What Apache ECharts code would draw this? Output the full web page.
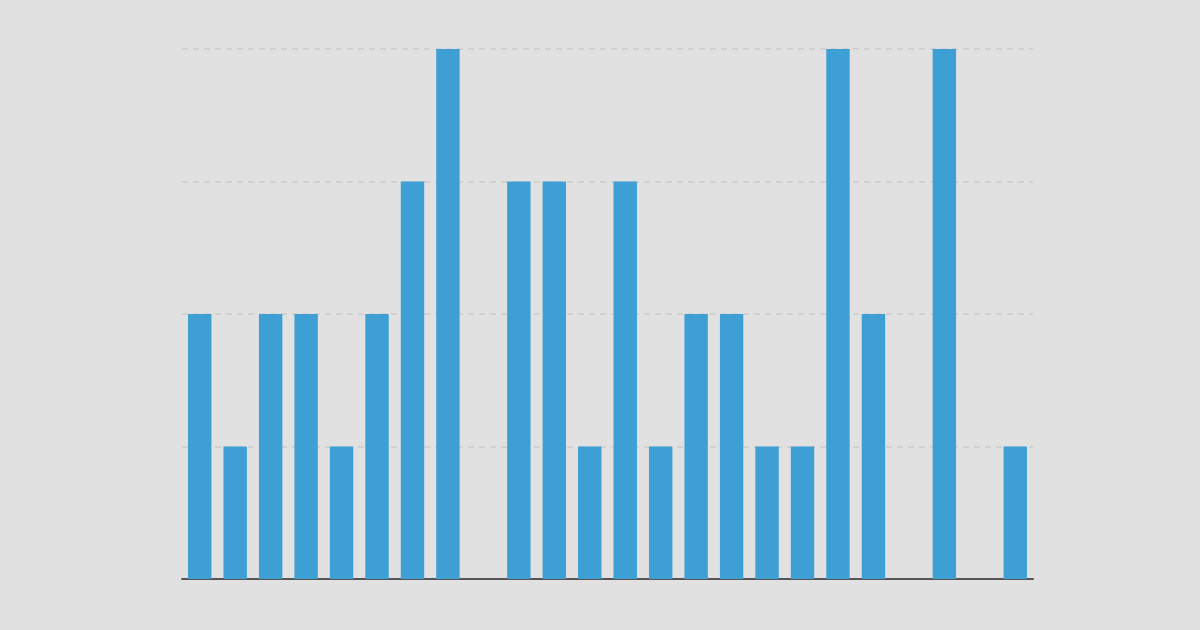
<!DOCTYPE html>
<html>
<head>
<meta charset="utf-8">
<script src="https://cdn.jsdelivr.net/npm/echarts@6/dist/echarts.min.js"></script>
<style>
html,body{margin:0;padding:0;background:#e1e1e1;}
#chart{width:1200px;height:630px;}
</style>
</head>
<body>
<div id="chart"></div>
<script>
const categories = ['1','2','3','4','5','6','7','8','9','10','11','12','13','14','15','16','17','18','19','20','21','22','23','24'];
const values = [2,1,2,2,1,2,3,4,0,3,3,1,3,1,2,2,1,1,4,2,0,4,0,1];
const yTicks = [0,1,2,3,4];

const chart = echarts.init(document.getElementById('chart'));
chart.setOption({
  backgroundColor: '#e1e1e1',
  animation: false,
  grid: {left: 182, right: 167, top: 49, bottom: 51},
  xAxis: {
    type: 'category',
    data: categories,
    axisLine: {show: true, lineStyle: {color: '#555555', width: 2}},
    axisTick: {show: false},
    axisLabel: {show: false},
    splitLine: {show: false}
  },
  yAxis: {
    type: 'value',
    min: yTicks[0],
    max: yTicks[yTicks.length - 1],
    interval: 1,
    axisLine: {show: false},
    axisTick: {show: false},
    axisLabel: {show: false},
    splitLine: {show: true, lineStyle: {color: '#cbcbcb', width: 1.5, type: [6, 5]}}
  },
  series: [{
    type: 'bar',
    data: values,
    barWidth: '66%',
    itemStyle: {color: '#3d9fd3'}
  }]
});
</script>
</body>
</html>
